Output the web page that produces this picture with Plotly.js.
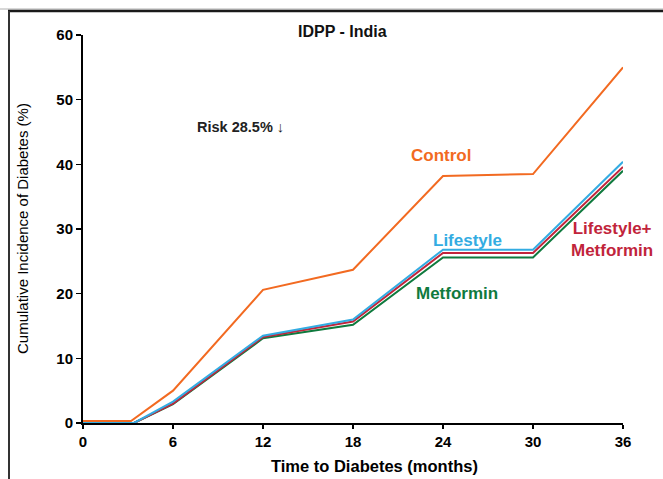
<!DOCTYPE html>
<html>
<head>
<meta charset="utf-8">
<script src="https://cdn.plot.ly/plotly-3.0.1.min.js"></script>
<style>html,body{margin:0;padding:0;background:#fff;}#chart{width:663px;height:479px;}</style>
</head>
<body>
<div id="chart"></div>
<script>
// Data
const months = [0, 3.2, 6, 12, 18, 24, 30, 36];
const monthsTreat = [0, 3.4, 6, 12, 18, 24, 30, 36];
const control = [0.3, 0.3, 5.0, 20.6, 23.7, 38.2, 38.5, 55.0];
const lifestyle = [0, 0, 3.3, 13.5, 16.0, 26.8, 26.8, 40.4];
const lifestyleMetformin = [0, 0, 3.0, 13.3, 15.7, 26.3, 26.3, 39.6];
const metformin = [0, 0, 2.9, 13.1, 15.2, 25.6, 25.6, 39.0];
const xTicks = [0, 6, 12, 18, 24, 30, 36];
const yTicks = [0, 10, 20, 30, 40, 50, 60];

const C_ORANGE = '#F26A21', C_BLUE = '#33ACE2', C_RED = '#C1243B', C_GREEN = '#0F7A3E';
const FONT = 'Liberation Sans, Arial, sans-serif';

const traces = [
  {x: monthsTreat, y: metformin, mode: 'lines', line: {color: C_GREEN, width: 2}, name: 'Metformin'},
  {x: monthsTreat, y: lifestyleMetformin, mode: 'lines', line: {color: C_RED, width: 2}, name: 'Lifestyle+Metformin'},
  {x: monthsTreat, y: lifestyle, mode: 'lines', line: {color: C_BLUE, width: 2}, name: 'Lifestyle'},
  {x: months, y: control, mode: 'lines', line: {color: C_ORANGE, width: 2}, name: 'Control'}
];

// position helpers: pixel -> paper
const px2x = p => (p - 83) / 540;
const px2y = p => (423 - p) / 388;

function lab(text, px, py, color, size, extra) {
  return Object.assign({text: text, x: px2x(px), y: px2y(py), xref: 'paper', yref: 'paper', showarrow: false,
    xanchor: 'center', yanchor: 'middle',
    font: {family: FONT, size: size, color: color, weight: 'bold'}}, extra || {});
}

const layout = {
  width: 663, height: 479,
  margin: {l: 83, r: 40, t: 35, b: 56, pad: 0},
  paper_bgcolor: '#fff', plot_bgcolor: '#fff',
  showlegend: false,
  xaxis: {
    range: [0, 36], tickvals: xTicks, ticktext: xTicks.map(String),
    showgrid: false, zeroline: false, showline: true, linecolor: '#000', linewidth: 2,
    ticks: 'outside', ticklen: 4, tickwidth: 1.5, tickcolor: '#000',
    tickfont: {family: FONT, size: 15, color: '#000', weight: 'bold'}
  },
  yaxis: {
    range: [0, 60], tickvals: yTicks, ticktext: yTicks.map(String),
    showgrid: false, zeroline: false, showline: true, linecolor: '#000', linewidth: 2,
    ticks: 'outside', ticklen: 5, tickwidth: 1.5, tickcolor: '#000',
    tickfont: {family: FONT, size: 15, color: '#000', weight: 'bold'}
  },
  shapes: [
    {type: 'line', xref: 'paper', yref: 'paper', x0: -0.2, x1: 1.2, y0: px2y(9), y1: px2y(9),
     line: {color: '#b0b0b0', width: 1}},
    {type: 'line', xref: 'paper', yref: 'paper', x0: px2x(8), x1: 1.2, y0: px2y(11), y1: px2y(11),
     line: {color: '#1a1a1a', width: 2.5}},
    {type: 'line', xref: 'paper', yref: 'paper', x0: px2x(9), x1: px2x(9), y0: px2y(11), y1: px2y(490),
     line: {color: '#333', width: 2}}
  ],
  annotations: [
    lab('IDPP - India', 342, 31, '#111', 16),
    lab('Risk 28.5% \u2193', 240, 127, '#222', 14.5),
    lab('Control', 441, 155, C_ORANGE, 17),
    lab('Lifestyle', 467, 240, C_BLUE, 17),
    lab('Lifestyle+<br>Metformin', 612, 239, C_RED, 17),
    lab('Metformin', 457, 293, C_GREEN, 17),
    lab('Time to Diabetes (months)', 374, 466, '#000', 16.5),
    Object.assign(lab('Cumulative Incidence of Diabetes (%)', 22, 229, '#000', 15), {textangle: -90,
      font: {family: FONT, size: 15, color: '#000', weight: 'normal'}})
  ]
};

Plotly.newPlot('chart', traces, layout, {displayModeBar: false, staticPlot: true});
</script>
</body>
</html>
